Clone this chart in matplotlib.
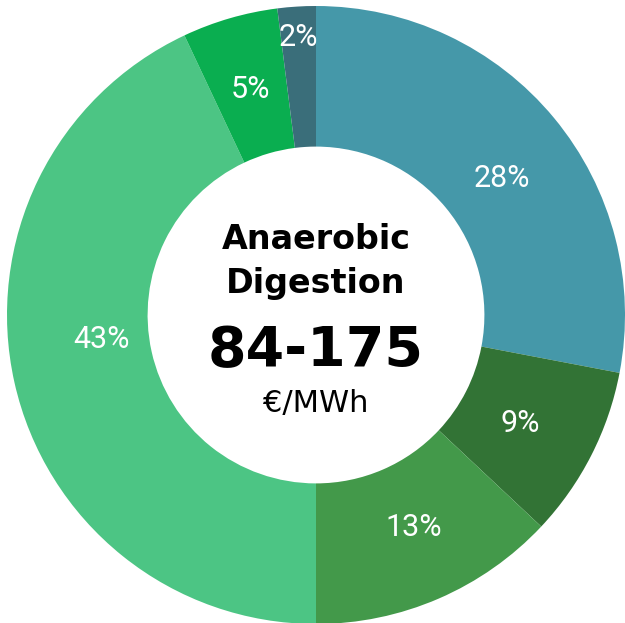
import matplotlib.pyplot as plt
import numpy as np

shares = [28, 9, 13, 43, 5, 2]
labels = ["28%", "9%", "13%", "43%", "5%", "2%"]
colors = ["#4598A9", "#327335", "#43994A", "#4CC584", "#0AAE50", "#3A6E7A"]
# label radius and small angle nudges (deg) from each wedge's middle
label_dist = [0.745, 0.75, 0.757, 0.70, 0.76, 0.90]
label_shift = [-3.3, -1.0, 1.4, -6.0, 0.0, 0.0]

title_lines = ["Anaerobic", "Digestion"]
cost_range = "84-175"
unit = "€/MWh"

plt.rcParams["font.family"] = ["DejaVu Sans"]

fig = plt.figure(figsize=(6.25, 6.23), dpi=100)
ax = fig.add_axes([0, 0, 1, 1])
R = 309.0

wedges, texts = ax.pie(
    shares,
    colors=colors,
    startangle=90,
    counterclock=False,
    radius=1.0,
    wedgeprops=dict(width=0.455, linewidth=0),
)

for w, lab, d, s in zip(wedges, labels, label_dist, label_shift):
    ang = np.deg2rad((w.theta1 + w.theta2) / 2 + s)
    ax.text(d * np.cos(ang), d * np.sin(ang), lab, ha="center", va="center",
            color="white", fontsize=22, family=["Roboto", "DejaVu Sans"])

ax.set_aspect("equal")
ax.set_xlim(-316 / R, (625 - 316) / R)
ax.set_ylim(-(623 - 315) / R, 315 / R)
ax.axis("off")

ax.text(0, (315 - 249) / R, title_lines[0], ha="center", va="baseline",
        fontsize=24, fontweight="bold", color="black")
ax.text(0, (315 - 293) / R, title_lines[1], ha="center", va="baseline",
        fontsize=24, fontweight="bold", color="black")
ax.text(0, (315 - 366) / R, cost_range, ha="center", va="baseline",
        fontsize=40, fontweight="bold", color="black")
ax.text(0, (315 - 412) / R, unit, ha="center", va="baseline",
        fontsize=22, color="black")

fig.savefig("out.png", dpi=100)
